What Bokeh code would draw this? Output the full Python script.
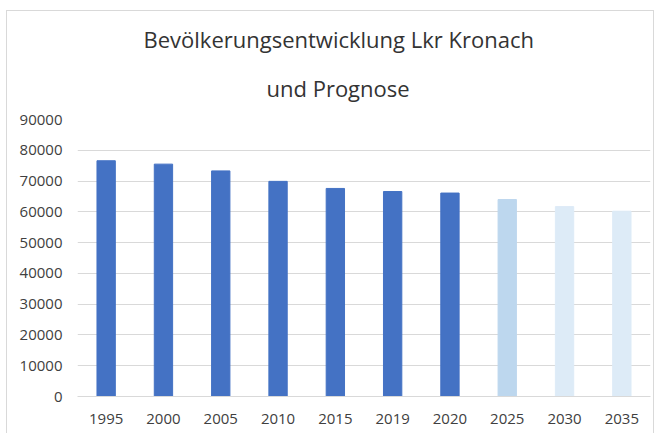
from bokeh.plotting import figure
from bokeh.models import Title, ColumnDataSource
from bokeh.embed import file_html
from bokeh.resources import INLINE

years = ["1995", "2000", "2005", "2010", "2015", "2019", "2020", "2025", "2030", "2035"]
population = [76600, 75500, 73300, 69900, 67600, 66600, 66100, 64000, 61700, 60200]
bar_colors = ["#4472C4"] * 7 + ["#BDD7EE", "#DDEBF7", "#DDEBF7"]
y_ticks = [0, 10000, 20000, 30000, 40000, 50000, 60000, 70000, 80000, 90000]
title_line1 = "Bevölkerungsentwicklung Lkr Kronach"
title_line2 = "und Prognose"

src = ColumnDataSource(dict(year=years, pop=population, color=bar_colors))

p = figure(x_range=years, y_range=(0, 90000), width=648, height=423,
           output_backend="svg", toolbar_location=None,
           min_border_left=70, min_border_right=5, min_border_bottom=38, min_border_top=108)
p.title = None

title_style = dict(align="left", text_font="Open Sans", text_font_size="22px",
                   text_font_style="normal", text_color="#333333")
p.add_layout(Title(text=title_line2, offset=189, standoff=34, **title_style), "above")
p.add_layout(Title(text=title_line1, offset=66, standoff=0, **title_style), "above")

p.vbar(x="year", top="pop", width=0.32, color="color", source=src)

p.outline_line_color = None
p.xgrid.grid_line_color = None
p.ygrid.grid_line_color = "#d9d9d9"
p.ygrid.grid_line_width = 1
p.yaxis.ticker = y_ticks
p.yaxis.axis_line_color = None
p.yaxis.major_tick_line_color = None
p.yaxis.major_tick_out = 0
p.yaxis.major_tick_in = 0
p.yaxis.minor_tick_line_color = None
p.yaxis.major_label_text_font = "Open Sans"
p.yaxis.major_label_text_font_size = "15px"
p.yaxis.major_label_text_color = "#404040"
p.yaxis.major_label_standoff = 15
p.xaxis.axis_line_color = "#d9d9d9"
p.xaxis.major_tick_line_color = None
p.xaxis.major_tick_out = 0
p.xaxis.major_tick_in = 0
p.xaxis.minor_tick_line_color = None
p.xaxis.major_label_text_font = "Open Sans"
p.xaxis.major_label_text_font_size = "15px"
p.xaxis.major_label_text_color = "#404040"
p.xaxis.major_label_standoff = 17
p.styles = {"margin-left": "6px", "margin-top": "10px",
            "border-left": "1px solid #d9d9d9", "border-top": "1px solid #d9d9d9",
            "border-right": "1px solid #d9d9d9"}

open("out.html", "w").write(file_html(p, INLINE))
